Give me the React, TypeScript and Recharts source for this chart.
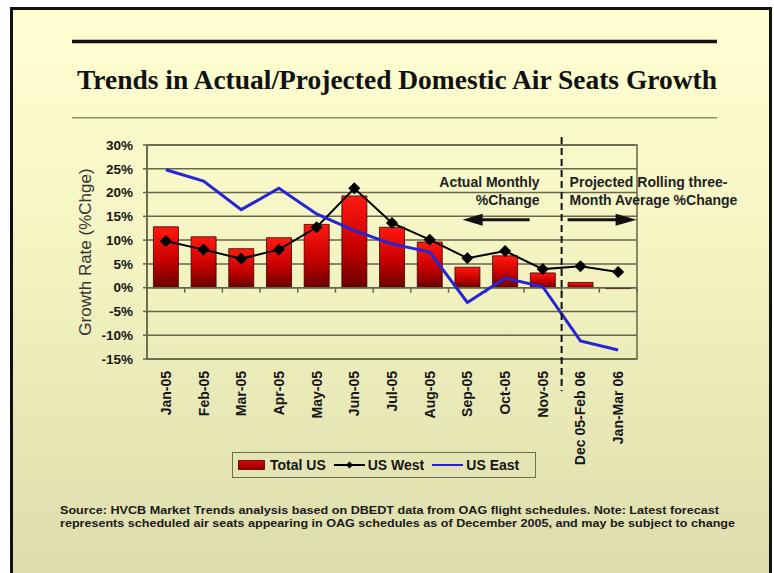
import React from 'react';
import {
  ComposedChart,
  Bar,
  Line,
  XAxis,
  YAxis,
  CartesianGrid,
  ReferenceLine,
  ReferenceArea,
  Legend,
  Label,
} from 'recharts';

const categories = [
  'Jan-05', 'Feb-05', 'Mar-05', 'Apr-05', 'May-05', 'Jun-05', 'Jul-05',
  'Aug-05', 'Sep-05', 'Oct-05', 'Nov-05', 'Dec 05-Feb 06', 'Jan-Mar 06',
];
const totalUS = [12.8, 10.7, 8.2, 10.5, 13.3, 19.3, 12.7, 9.6, 4.3, 6.7, 3.1, 1.1, -0.2];
const usWest = [9.8, 8.0, 6.1, 8.0, 12.7, 20.9, 13.6, 10.1, 6.2, 7.7, 3.9, 4.5, 3.3];
const usEast = [24.8, 22.4, 16.4, 20.9, 15.5, 12.0, 9.2, 7.5, -3.1, 2.0, 0.2, -11.2, -13.1];
const yTicks = [-15, -10, -5, 0, 5, 10, 15, 20, 25, 30];
const seriesNames = { totalUS: 'Total US', usWest: 'US West', usEast: 'US East' };
const legendOrder = ['totalUS', 'usWest', 'usEast'];
const projectionStart = 'Dec 05-Feb 06';
const titleText = 'Trends in Actual/Projected Domestic Air Seats Growth';
const sourceLines = [
  'Source: HVCB Market Trends analysis based on DBEDT data from OAG flight schedules. Note: Latest forecast',
  'represents scheduled air seats appearing in OAG schedules as of December 2005, and may be subject to change',
];
const annotationLeft = ['Actual Monthly', '%Change'];
const annotationRight = ['Projected Rolling three-', 'Month Average %Change'];

const data = categories.map((c, i) => ({
  name: c,
  totalUS: totalUS[i],
  usWest: usWest[i],
  usEast: usEast[i],
}));

const SANS = '"Liberation Sans", Arial, Helvetica, sans-serif';
const GRID = '#66664c';
const TEXT = '#161616';
const BLUE = '#2525d6';
const Y_MIN = yTicks[0];
const Y_MAX = yTicks[yTicks.length - 1];

const XTick = (props: any) => {
  const { x, y, payload } = props;
  return (
    <text
      x={x}
      y={y}
      transform={`rotate(-90 ${x} ${y})`}
      textAnchor="end"
      dy="0.36em"
      fontFamily={SANS}
      fontWeight="bold"
      fontSize={14}
      fill={TEXT}
    >
      {payload.value}
    </text>
  );
};

const Diamond = (props: any) => {
  const { cx, cy } = props;
  if (cx == null || cy == null) return null;
  const r = 5.5;
  return (
    <polygon
      points={`${cx},${cy - r} ${cx + r},${cy} ${cx},${cy + r} ${cx - r},${cy}`}
      fill="#000"
      stroke="#000"
    />
  );
};

const ZeroLine = (props: any) => {
  const { x1, x2, y1 } = props;
  const n = categories.length;
  const left = Math.min(x1, x2);
  const w = Math.abs(x2 - x1);
  const ticks = [];
  for (let i = 0; i <= n; i++) {
    const tx = left + (w * i) / n;
    ticks.push(<line key={i} x1={tx} x2={tx} y1={y1} y2={y1 + 5} stroke={GRID} strokeWidth={1.5} />);
  }
  return (
    <g>
      <line x1={x1} x2={x2} y1={y1} y2={y1} stroke={GRID} strokeWidth={1.5} />
      {ticks}
    </g>
  );
};

const DividerWithNotes = (props: any) => {
  const { x1, y1, y2 } = props;
  const top = Math.min(y1, y2);
  const bottom = Math.max(y1, y2);
  const yAt = (v: number) => top + ((Y_MAX - v) / (Y_MAX - Y_MIN)) * (bottom - top);
  const x = x1;
  const ay = yAt(14.3);
  const l1 = yAt(22.3) + 5;
  const l2 = yAt(18.5) + 5;
  const txt = {
    fontFamily: SANS,
    fontWeight: 'bold' as const,
    fontSize: 14,
    fill: '#222',
  };
  return (
    <g>
      <line x1={x} x2={x} y1={top - 8} y2={bottom + 32} stroke="#111" strokeWidth={2} strokeDasharray="7 4" />
      <text x={x - 22} y={l1} textAnchor="end" {...txt}>{annotationLeft[0]}</text>
      <text x={x - 22} y={l2} textAnchor="end" {...txt}>{annotationLeft[1]}</text>
      <text x={x + 8} y={l1} textAnchor="start" {...txt}>{annotationRight[0]}</text>
      <text x={x + 8} y={l2} textAnchor="start" {...txt}>{annotationRight[1]}</text>
      <line x1={x - 32} x2={x - 80} y1={ay} y2={ay} stroke="#111" strokeWidth={3} />
      <polygon points={`${x - 99},${ay} ${x - 79},${ay - 6} ${x - 79},${ay + 6}`} fill="#111" />
      <line x1={x + 6} x2={x + 55} y1={ay} y2={ay} stroke="#111" strokeWidth={3} />
      <polygon points={`${x + 75},${ay} ${x + 54},${ay - 6} ${x + 54},${ay + 6}`} fill="#111" />
    </g>
  );
};

const LegendContent = (props: any) => {
  const payload = [...(props.payload || [])].sort(
    (a: any, b: any) => legendOrder.indexOf(a.dataKey) - legendOrder.indexOf(b.dataKey),
  );
  const items = payload.map((p: any) => {
    const key = p.dataKey;
    let icon;
    if (key === 'totalUS') {
      icon = (
        <svg width={27} height={10} style={{ marginRight: 5 }}>
          <defs>
            <linearGradient id="legendGrad" x1="0" y1="0" x2="0" y2="1">
              <stop offset="0%" stopColor="#e00000" />
              <stop offset="100%" stopColor="#900000" />
            </linearGradient>
          </defs>
          <rect x={0.5} y={0.5} width={26} height={9} fill="url(#legendGrad)" stroke="#4a0000" strokeWidth={0.8} />
        </svg>
      );
    } else if (key === 'usWest') {
      icon = (
        <svg width={31} height={10} style={{ marginRight: 3 }}>
          <line x1={0} x2={31} y1={5} y2={5} stroke="#000" strokeWidth={2} />
          <polygon points="15.5,1.5 19,5 15.5,8.5 12,5" fill="#000" />
        </svg>
      );
    } else {
      icon = (
        <svg width={31} height={10} style={{ marginRight: 3 }}>
          <line x1={0} x2={31} y1={5} y2={5} stroke={BLUE} strokeWidth={2} />
        </svg>
      );
    }
    return (
      <div key={key} style={{ display: 'flex', alignItems: 'center', marginRight: key === 'usEast' ? 0 : 8 }}>
        {icon}
        <span>{p.value}</span>
      </div>
    );
  });
  return (
    <div
      style={{
        boxSizing: 'border-box',
        width: 304,
        height: 26,
        border: '1.5px solid #6f6f55',
        display: 'flex',
        alignItems: 'center',
        paddingLeft: 5,
        fontFamily: SANS,
        fontWeight: 'bold',
        fontSize: 14,
        color: TEXT,
        whiteSpace: 'nowrap',
      }}
    >
      {items}
    </div>
  );
};

export default function App() {
  return (
    <div style={{ position: 'fixed', left: 0, top: 0, width: 774, height: 573, overflow: 'hidden', background: '#fff' }}>
      <div
        style={{
          position: 'absolute',
          left: 10,
          top: 7,
          width: 762,
          height: 580,
          boxSizing: 'border-box',
          borderTop: '3px solid #111',
          borderLeft: '3px solid #111',
          borderRight: '3px solid #111',
          background: 'linear-gradient(180deg, #ffffd2 0%, #f3f3c2 45%, #dbdbab 100%)',
        }}
      />
      <div style={{ position: 'absolute', left: 0, top: 0 }}>
        <ComposedChart
          width={774}
          height={573}
          data={data}
          margin={{ top: 145, right: 137, bottom: 104, left: 23 }}
          barCategoryGap="17%"
        >
          <defs>
            <linearGradient id="barGrad" x1="0" y1="0" x2="0" y2="1">
              <stop offset="0%" stopColor="#ff1a10" />
              <stop offset="55%" stopColor="#c80000" />
              <stop offset="100%" stopColor="#6a0000" />
            </linearGradient>
          </defs>
          <CartesianGrid horizontal vertical={false} stroke={GRID} strokeWidth={1.5} />
          <ReferenceArea y1={Y_MIN} y2={Y_MAX} fill="none" stroke={GRID} strokeWidth={1.5} ifOverflow="visible" />
          <XAxis
            dataKey="name"
            height={110}
            interval={0}
            axisLine={false}
            tickLine={false}
            tickSize={6}
            tickMargin={6}
            tick={<XTick />}
          />
          <YAxis
            width={124}
            domain={[Y_MIN, Y_MAX]}
            ticks={yTicks}
            interval={0}
            tickFormatter={(v: number) => `${v}%`}
            axisLine={{ stroke: GRID, strokeWidth: 1.5 }}
            tickLine={{ stroke: GRID, strokeWidth: 1.5 }}
            tickSize={4}
            tickMargin={10}
            tick={{ fill: TEXT, fontSize: 13.5, fontWeight: 'bold', fontFamily: SANS }}
          >
            <Label
              value="Growth Rate (%Chge)"
              angle={-90}
              position="center"
              style={{ fontFamily: SANS, fontSize: 17, fill: '#333', textAnchor: 'middle' }}
            />
          </YAxis>
          <ReferenceLine y={0} shape={<ZeroLine />} />
          <Bar
            dataKey="totalUS"
            name={seriesNames.totalUS}
            fill="url(#barGrad)"
            stroke="#3a0000"
            strokeWidth={0.8}
            isAnimationActive={false}
          />
          <Line
            dataKey="usWest"
            name={seriesNames.usWest}
            type="linear"
            stroke="#000"
            strokeWidth={2}
            dot={<Diamond />}
            activeDot={false}
            isAnimationActive={false}
          />
          <Line
            dataKey="usEast"
            name={seriesNames.usEast}
            type="linear"
            stroke={BLUE}
            strokeWidth={3}
            dot={false}
            activeDot={false}
            isAnimationActive={false}
          />
          <ReferenceLine x={projectionStart} position="start" shape={<DividerWithNotes />} ifOverflow="visible" />
          <Legend
            layout="horizontal"
            verticalAlign="middle"
            align="center"
            wrapperStyle={{ left: 232, top: 452, width: 304, height: 26 }}
            content={<LegendContent />}
          />
        </ComposedChart>
      </div>
      <svg width={774} height={573} style={{ position: 'absolute', left: 0, top: 0, pointerEvents: 'none' }}>
        <line x1={72} x2={717} y1={41.5} y2={41.5} stroke="#111" strokeWidth={3.5} />
        <text
          x={397}
          y={89}
          textAnchor="middle"
          fontFamily='"Liberation Serif", "Times New Roman", serif'
          fontWeight="bold"
          fontSize={27}
          fill="#111"
          textLength={640}
          lengthAdjust="spacingAndGlyphs"
        >
          {titleText}
        </text>
        <line x1={72} x2={717} y1={117.7} y2={117.7} stroke="#8c8c6a" strokeWidth={1.5} />
        <text x={60} y={513.5} fontFamily={SANS} fontWeight="bold" fontSize={11} fill="#1a1a1a" textLength={659} lengthAdjust="spacingAndGlyphs">
          {sourceLines[0]}
        </text>
        <text x={60} y={527} fontFamily={SANS} fontWeight="bold" fontSize={11} fill="#1a1a1a" textLength={675} lengthAdjust="spacingAndGlyphs">
          {sourceLines[1]}
        </text>
      </svg>
    </div>
  );
}
